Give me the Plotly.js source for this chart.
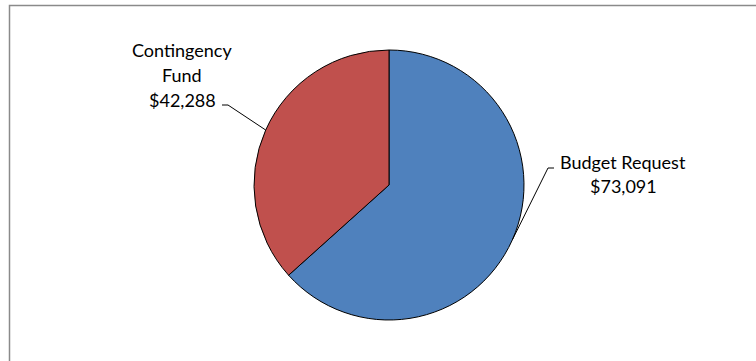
<!DOCTYPE html>
<html>
<head>
<meta charset="utf-8">
<script src="https://cdn.plot.ly/plotly-3.0.1.min.js"></script>
<style>html,body{margin:0;padding:0;background:#fff;}#chart{width:756px;height:361px;}</style>
</head>
<body>
<div id="chart"></div>
<script>
const labels = ["Budget Request", "Contingency Fund"];
const values = [73091, 42288];
const valueText = ["$73,091", "$42,288"];
const colors = ["#4F81BD", "#C0504D"];

const W = 756, H = 361;
const cx = 389, cy = 185, R = 135;
const domain = {
  x: [(cx - R) / W, (cx + R) / W],
  y: [1 - (cy + R) / H, 1 - (cy - R) / H]
};

// midpoint angles of slices (clockwise from 12 o'clock)
const total = values.reduce((a, b) => a + b, 0);
let acc = 0;
const mids = values.map(v => { const m = (acc + v / 2) / total * 2 * Math.PI; acc += v; return m; });
const edge = mids.map(a => [cx + R * Math.sin(a), cy - R * Math.cos(a)]);

function px(x) { return x / W; }
function py(y) { return 1 - y / H; }

// label layout: elbow/end of leader line, label center x, first line center y, line spacing
const leaders = [
  { elbow: [548, 168], end: [554, 168], lines: ["Budget Request", valueText[0]], lx: 623, ly: 162, dy: 24 },
  { elbow: [228, 105], end: [222, 105], lines: ["Contingency", "Fund", valueText[1]], lx: 182, ly: 50, dy: 25 }
];

const shapes = [{
  type: "rect", xref: "paper", yref: "paper",
  x0: px(9.5), x1: 1.05, y0: -0.05, y1: py(5.5),
  line: { color: "#8a8a8a", width: 1.5 }, fillcolor: "rgba(0,0,0,0)"
}];
const annotations = [];
leaders.forEach((l, i) => {
  const p = edge[i];
  shapes.push({
    type: "path", xref: "paper", yref: "paper",
    path: `M ${px(p[0])} ${py(p[1])} L ${px(l.elbow[0])} ${py(l.elbow[1])} L ${px(l.end[0])} ${py(l.end[1])}`,
    line: { color: "#000", width: 1 }
  });
  l.lines.forEach((t, k) => {
    annotations.push({
      xref: "paper", yref: "paper", x: px(l.lx), y: py(l.ly + k * l.dy),
      xanchor: "center", yanchor: "middle", align: "center",
      text: t, showarrow: false,
      font: { family: "Lato, 'Open Sans', sans-serif", size: 18, color: "#000" }
    });
  });
});

const data = [{
  type: "pie",
  labels: labels,
  values: values,
  marker: { colors: colors, line: { color: "#000", width: 1 } },
  sort: false,
  direction: "clockwise",
  rotation: 0,
  textinfo: "none",
  hoverinfo: "none",
  domain: domain,
  showlegend: false
}];

const layout = {
  width: W, height: H,
  margin: { l: 0, r: 0, t: 0, b: 0 },
  paper_bgcolor: "#fff",
  showlegend: false,
  shapes: shapes,
  annotations: annotations
};

Plotly.newPlot("chart", data, layout, { displayModeBar: false, staticPlot: true });
</script>
</body>
</html>
